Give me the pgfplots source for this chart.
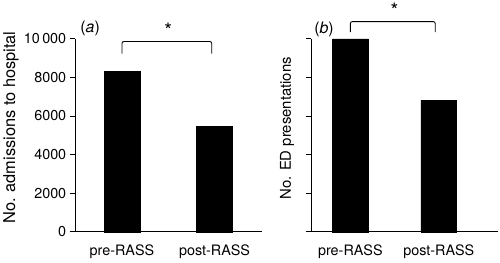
\documentclass[border=0pt]{standalone}
\usepackage{pgfplots}
\pgfplotsset{compat=1.18}
\usepackage{fontspec}
\setmainfont{TeX Gyre Heros}
\begin{document}
\begin{tikzpicture}
\path (0bp,0bp) rectangle (500bp,259bp);
\pgfplotsset{
 myax/.style={
  scale only axis, width=187.5bp, height=194bp,
  anchor=south west,
  axis x line*=bottom, axis y line*=left,
  ymin=0, ymax=10000,
  ytick={0,2000,4000,6000,8000,10000},
  scaled y ticks=false,
  xtick={0,1},
  xticklabels={pre-RASS,post-RASS},
  x tick style={draw=none},
  tick align=outside,
  major tick length=5.5bp,
  tick style={black, line width=0.8bp},
  axis line style={line width=0.8bp},
  ybar, bar width=36bp,
  clip=false,
  font=\fontsize{14.5}{17}\selectfont,
  /pgf/number format/assume math mode=true,
  xticklabel style={yshift=-4.5bp},
 }}
\begin{axis}[myax, at={(73bp,26bp)}, xmin=-0.505, xmax=1.51,
  yticklabels={0,2000,4000,6000,8000,10\,000},
  ylabel={No. admissions to hospital},
  ylabel style={at={(axis description cs:-0.344,0.54)}, anchor=center, font=\fontsize{16.5}{19}\selectfont}]
\addplot[fill=black, draw=black] coordinates {(0,8330) (1,5450)};
\draw[line width=0.9bp, rounded corners=2bp] (axis cs:0,9227) |- (axis cs:0.97,9861) -- (axis cs:0.97,9227);
\node[inner sep=0pt, anchor=base, font=\fontsize{20}{22}\selectfont] at (axis cs:0.5,10062) {*};
\node[inner sep=0pt, font=\fontsize{16}{18}\selectfont] at (axis cs:-0.344,10515) {(\textit{a})};
\end{axis}
\begin{axis}[myax, at={(310.5bp,26bp)}, xmin=-0.44, xmax=1.67,
  yticklabels={},
  ylabel={No. ED presentations},
  ylabel style={at={(axis description cs:-0.131,0.536)}, anchor=center, font=\fontsize{15}{17}\selectfont}]
\addplot[fill=black, draw=black] coordinates {(0,10000) (1,6810)};
\draw[line width=0.9bp, rounded corners=2bp] (axis cs:0,10345) |- (axis cs:0.96,10892) -- (axis cs:0.96,10345);
\node[inner sep=0pt, anchor=base, font=\fontsize{20}{22}\selectfont] at (axis cs:0.5,11093) {*};
\node[inner sep=0pt, font=\fontsize{16}{18}\selectfont] at (axis cs:-0.298,10490) {(\textit{b})};
\end{axis}
\end{tikzpicture}
\end{document}
